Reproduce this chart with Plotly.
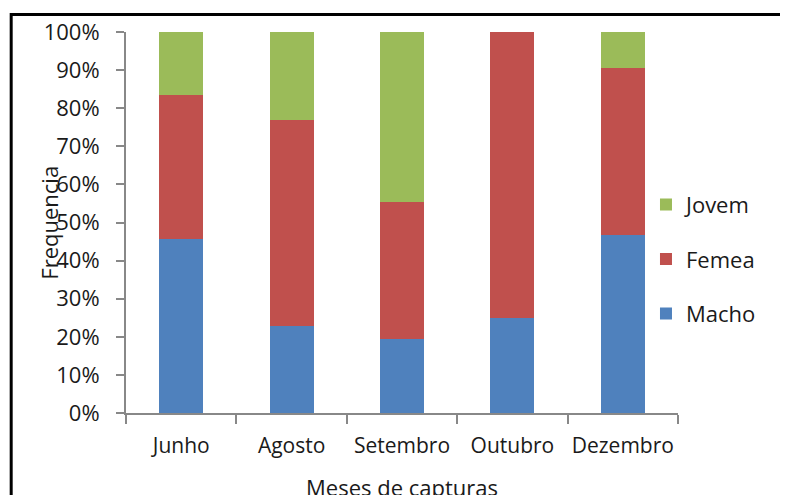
import plotly.graph_objects as go

months = ["Junho", "Agosto", "Setembro", "Outubro", "Dezembro"]
macho = [45.7, 22.8, 19.4, 24.9, 46.7]
femea = [37.8, 54.1, 36.0, 75.1, 43.9]
jovem = [16.5, 23.1, 44.6, 0.0, 9.4]
yticks = [0, 10, 20, 30, 40, 50, 60, 70, 80, 90, 100]
ytick_labels = [f"{v}%" for v in yticks]

FONT = "Open Sans"
fig = go.Figure()
for name, vals, col, rank in [("Macho", macho, "#4F81BD", 3),
                               ("Femea", femea, "#C0504D", 2),
                               ("Jovem", jovem, "#9BBB59", 1)]:
    fig.add_trace(go.Bar(x=months, y=vals, name=name, marker_color=col,
                         marker_line_width=0, legendgroup=name, legendrank=rank))

fig.update_layout(
    width=788, height=495,
    barmode="stack", bargap=0.6,
    plot_bgcolor="white", paper_bgcolor="white",
    margin=dict(l=118, r=118, t=24, b=90, autoexpand=False),
    font=dict(family=FONT, size=22, color="#1a1a1a"),
    showlegend=True,
    legend=dict(x=0.942, xanchor="left", y=0.404, yanchor="middle",
                traceorder="grouped", tracegroupgap=23,
                font=dict(size=22), itemwidth=30),
    xaxis=dict(showline=True, linecolor="#888888", linewidth=2,
               ticks="outside", tickson="boundaries", ticklen=9,
               tickcolor="#888888", tickwidth=2, showgrid=False,
               tickangle=0, tickfont=dict(size=21),
               ticklabelstandoff=13),
    yaxis=dict(range=[0, 100], tickvals=yticks, ticktext=ytick_labels,
               showline=True, linecolor="#888888", linewidth=2,
               ticks="outside", ticklen=8, tickcolor="#888888", tickwidth=2,
               showgrid=False, zeroline=False, ticklabelstandoff=12),
    shapes=[dict(type="rect", xref="paper", yref="paper",
                 x0=-0.208, x1=1.4, y0=-0.6, y1=1.046,
                 line=dict(color="black", width=3))],
    annotations=[
        dict(text="Frequencia", xref="paper", yref="paper", x=-0.141, y=0.5,
             xanchor="center", yanchor="middle",
             textangle=-90, showarrow=False, font=dict(size=22)),
        dict(text="Meses de capturas", xref="paper", yref="paper", x=0.5,
             y=-0.194, xanchor="center", yanchor="middle",
             showarrow=False, font=dict(size=22)),
    ],
)
fig.write_html("out.html")
